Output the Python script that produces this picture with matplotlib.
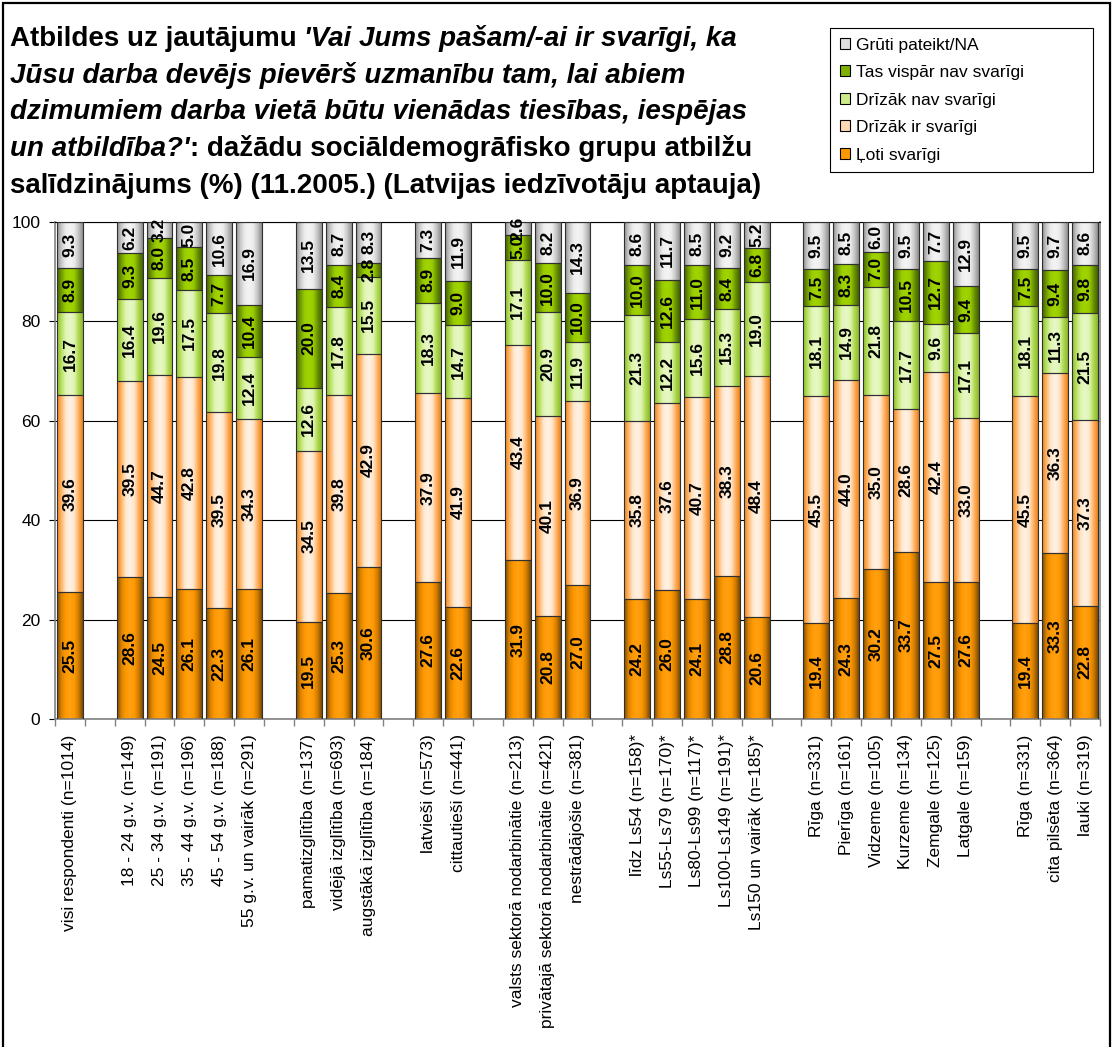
import matplotlib
matplotlib.use("Agg")
import matplotlib.pyplot as plt
import numpy as np
from matplotlib.colors import LinearSegmentedColormap
from matplotlib.patches import Patch, Rectangle

plt.rcParams['font.family'] = ['Liberation Sans', 'DejaVu Sans']

# Groups (empty strings are spacer slots between groups)
categories = [
    'visi respondenti (n=1014)', '',
    '18 - 24 g.v. (n=149)', '25 - 34 g.v. (n=191)', '35 - 44 g.v. (n=196)',
    '45 - 54 g.v. (n=188)', '55 g.v. un vairāk (n=291)', '',
    'pamatizglītība (n=137)', 'vidējā izglītība (n=693)', 'augstākā izglītība (n=184)', '',
    'latvieši (n=573)', 'cittautieši (n=441)', '',
    'valsts sektorā nodarbinātie (n=213)', 'privātajā sektorā nodarbinātie (n=421)',
    'nestrādājošie (n=381)', '',
    'līdz Ls54 (n=158)*', 'Ls55-Ls79 (n=170)*', 'Ls80-Ls99 (n=117)*',
    'Ls100-Ls149 (n=191)*', 'Ls150 un vairāk (n=185)*', '',
    'Rīga (n=331)', 'Pierīga (n=161)', 'Vidzeme (n=105)', 'Kurzeme (n=134)',
    'Zemgale (n=125)', 'Latgale (n=159)', '',
    'Rīga (n=331)', 'cita pilsēta (n=364)', 'lauki (n=319)',
]

loti_svarigi = [25.5, None, 28.6, 24.5, 26.1, 22.3, 26.1, None, 19.5, 25.3, 30.6, None,
                27.6, 22.6, None, 31.9, 20.8, 27.0, None, 24.2, 26.0, 24.1, 28.8, 20.6, None,
                19.4, 24.3, 30.2, 33.7, 27.5, 27.6, None, 19.4, 33.3, 22.8]
drizak_ir = [39.6, None, 39.5, 44.7, 42.8, 39.5, 34.3, None, 34.5, 39.8, 42.9, None,
             37.9, 41.9, None, 43.4, 40.1, 36.9, None, 35.8, 37.6, 40.7, 38.3, 48.4, None,
             45.5, 44.0, 35.0, 28.6, 42.4, 33.0, None, 45.5, 36.3, 37.3]
drizak_nav = [16.7, None, 16.4, 19.6, 17.5, 19.8, 12.4, None, 12.6, 17.8, 15.5, None,
              18.3, 14.7, None, 17.1, 20.9, 11.9, None, 21.3, 12.2, 15.6, 15.3, 19.0, None,
              18.1, 14.9, 21.8, 17.7, 9.6, 17.1, None, 18.1, 11.3, 21.5]
vispar_nav = [8.9, None, 9.3, 8.0, 8.5, 7.7, 10.4, None, 20.0, 8.4, 2.8, None,
              8.9, 9.0, None, 5.0, 10.0, 10.0, None, 10.0, 12.6, 11.0, 8.4, 6.8, None,
              7.5, 8.3, 7.0, 10.5, 12.7, 9.4, None, 7.5, 9.4, 9.8]
gruti_pateikt = [9.3, None, 6.2, 3.2, 5.0, 10.6, 16.9, None, 13.5, 8.7, 8.3, None,
                 7.3, 11.9, None, 2.6, 8.2, 14.3, None, 8.6, 11.7, 8.5, 9.2, 5.2, None,
                 9.5, 8.5, 6.0, 9.5, 7.7, 12.9, None, 9.5, 9.7, 8.6]

series_names = ['Ļoti svarīgi', 'Drīzāk ir svarīgi', 'Drīzāk nav svarīgi',
                'Tas vispār nav svarīgi', 'Grūti pateikt/NA']
series_values = [loti_svarigi, drizak_ir, drizak_nav, vispar_nav, gruti_pateikt]

# Horizontal gradient fills (dark edges, lighter centre) for each series
gradient_stops = [
    ['#7a4800', '#d98200', '#ff9900', '#ffa014', '#ff9900', '#d07c00', '#7a4800'],
    ['#e9801a', '#ffb466', '#ffe6cc', '#fff2e6', '#ffe6cc', '#ffb060', '#e9801a'],
    ['#88b82a', '#b8e060', '#def5b0', '#e8f8c8', '#def5b0', '#b0d850', '#88b82a'],
    ['#3f5f00', '#6f9900', '#99cc00', '#a2d400', '#99cc00', '#6a9200', '#3f5f00'],
    ['#8c8c8c', '#c8c8c8', '#ececec', '#f4f4f4', '#ececec', '#c4c4c4', '#8c8c8c'],
]
legend_colors = ['#ff9900', '#ffd9b3', '#cdeb8b', '#80b000', '#e0e0e0']
cmaps = [LinearSegmentedColormap.from_list(f'g{i}', c) for i, c in enumerate(gradient_stops)]
grad = np.linspace(0, 1, 256).reshape(1, -1)

W, H = 1112, 1047
fig = plt.figure(figsize=(W / 100, H / 100), dpi=100)
ax = fig.add_axes([55 / W, 1 - 719 / H, 1045 / W, (719 - 222) / H])

n = len(categories)
xpos = np.arange(n)
width = 0.87
bottoms = np.zeros(n)

for si, vals in enumerate(series_values):
    idx = [i for i, v in enumerate(vals) if v is not None]
    hv = np.array([vals[i] for i in idx], dtype=float)
    bars = ax.bar(xpos[idx], hv, width, bottom=bottoms[idx], facecolor='none',
                  edgecolor='#303030', linewidth=0.8, zorder=3)
    for rect, v in zip(bars, hv):
        x0, y0 = rect.get_x(), rect.get_y()
        w, h = rect.get_width(), rect.get_height()
        ax.imshow(grad, cmap=cmaps[si], extent=(x0, x0 + w, y0, y0 + h),
                  aspect='auto', interpolation='bilinear', zorder=2)
        ax.text(x0 + w / 2, y0 + h / 2, f'{v:.1f}', rotation=90, ha='center',
                va='center', fontsize=12.5, fontweight='bold', color='black',
                zorder=5, clip_on=False)
    bottoms[idx] += hv

ax.set_xlim(-0.5, n - 0.5)
ax.set_ylim(0, 100)

ax.set_yticks(np.arange(0, 101, 20))
ax.tick_params(axis='y', labelsize=12.5, length=4.5, width=0.8, color='black', pad=6)
ax.yaxis.grid(True, color='black', linewidth=0.8)
ax.set_axisbelow(True)

ax.set_xticks(xpos)
ax.set_xticklabels(categories, rotation=90, ha='center', va='top', fontsize=12.5)
ax.tick_params(axis='x', which='major', length=0, pad=11)
ax.set_xticks(np.arange(-0.5, n, 1.0), minor=True)
ax.tick_params(axis='x', which='minor', length=5, width=1.0, color='#808080')

for side in ['left', 'bottom', 'right']:
    ax.spines[side].set_color('#808080')
    ax.spines[side].set_linewidth(1.2)
ax.spines['top'].set_color('black')
ax.spines['top'].set_linewidth(0.8)

# Title assembled from bold and bold-italic pieces
title_lines = [
    [("Atbildes uz jautājumu", 'normal'), (" ", 'normal'),
     ("'Vai Jums pašam/-ai ir svarīgi, ka", 'italic')],
    [("Jūsu darba devējs pievērš uzmanību tam, lai abiem", 'italic')],
    [("dzimumiem darba vietā būtu vienādas tiesības, iespējas", 'italic')],
    [("un atbildība?'", 'italic'), (": dažādu sociāldemogrāfisko grupu atbilžu", 'normal')],
    [("salīdzinājums (%) (11.2005.) (Latvijas iedzīvotāju aptauja)", 'normal')],
]
title_size = 20
baselines = [46, 83, 119, 156, 193]
renderer = fig.canvas.get_renderer()


def text_width(s, style):
    t = fig.text(0, 0, s, fontsize=title_size, fontweight='bold', fontstyle=style)
    w = t.get_window_extent(renderer).width
    t.remove()
    return w


space_w = text_width("a a", 'normal') - text_width("aa", 'normal')
for line, yb in zip(title_lines, baselines):
    xcur = 10.0
    for s, style in line:
        if s == " ":
            xcur += space_w
            continue
        t = fig.text(xcur / W, 1 - yb / H, s, fontsize=title_size, fontweight='bold',
                     fontstyle=style, ha='left', va='baseline')
        xcur += t.get_window_extent(renderer).width

handles = [Patch(facecolor=c, edgecolor='black', linewidth=0.8) for c in legend_colors]
leg = fig.legend(handles[::-1], series_names[::-1], loc='upper left',
                 bbox_to_anchor=(830 / W, 1 - 28 / H, (1093 - 830) / W, 0),
                 mode='expand', borderaxespad=0, fontsize=12.5, frameon=True,
                 fancybox=False, edgecolor='black', framealpha=1,
                 handlelength=0.6, handleheight=0.6, handletextpad=0.35,
                 labelspacing=0.72, borderpad=0.55)
leg.get_frame().set_linewidth(0.8)

fig.patches.append(Rectangle((2.5 / W, -0.01), (W - 5) / W, 1 + 0.01 - 2.5 / H,
                             transform=fig.transFigure, fill=False,
                             edgecolor='black', linewidth=1.6))

fig.savefig('out.png', dpi=100, facecolor='white')
